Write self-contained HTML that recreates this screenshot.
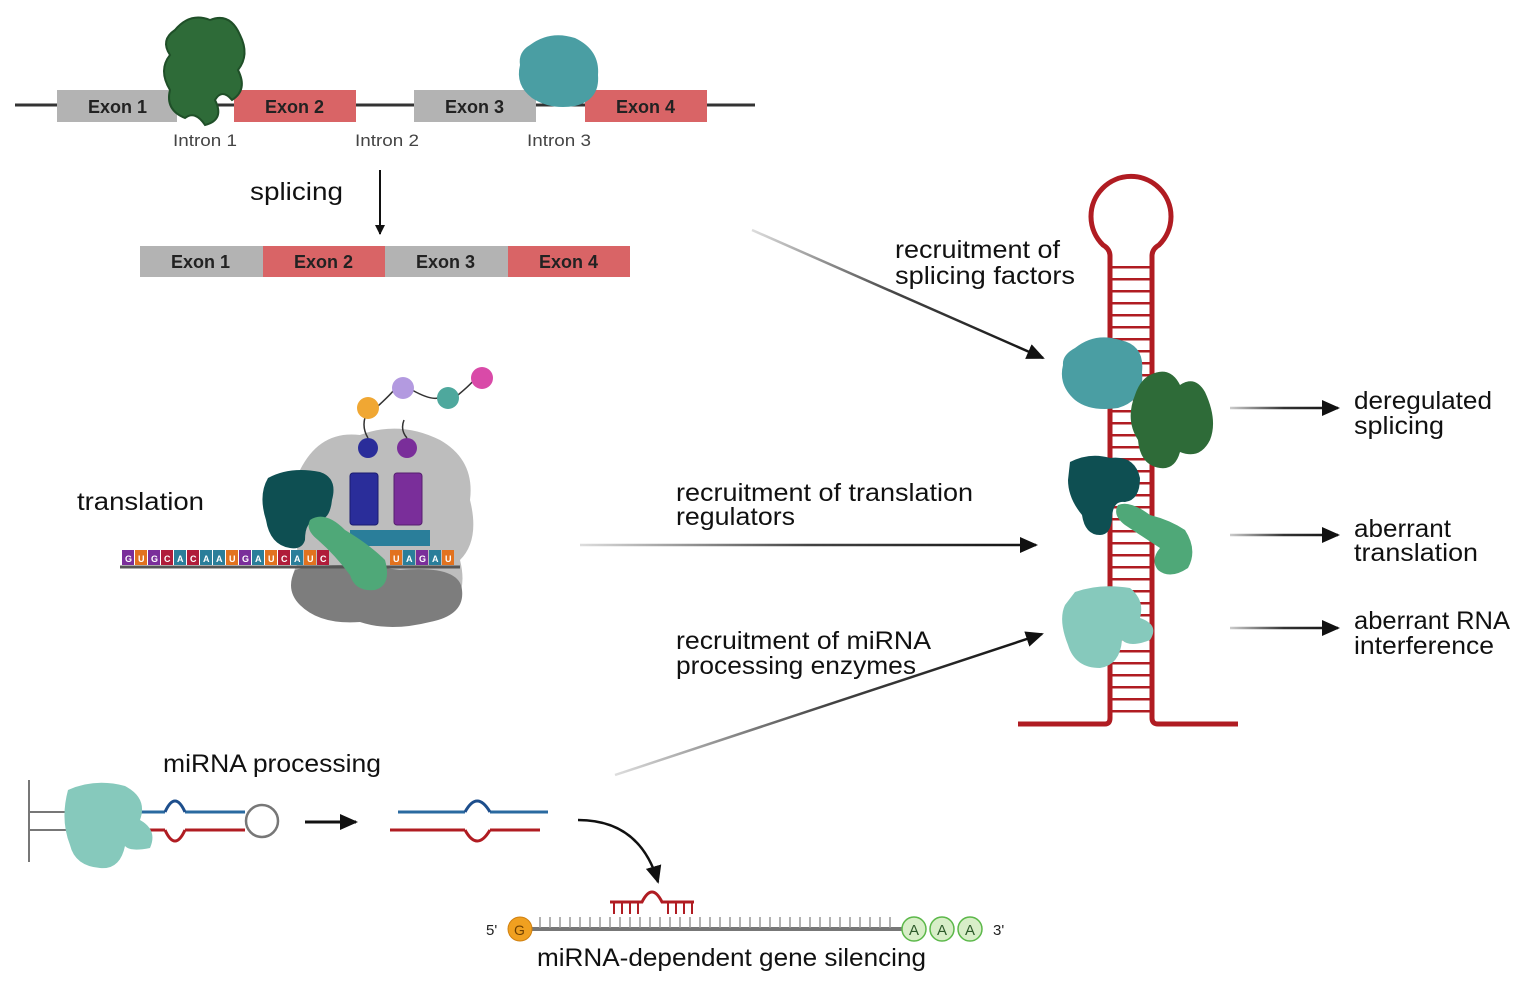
<!DOCTYPE html>
<html><head><meta charset="utf-8"><style>
html,body{margin:0;padding:0;background:#fff}
svg{display:block}
text{font-family:"Liberation Sans",sans-serif}
</style></head><body>
<svg width="1530" height="985" viewBox="0 0 1530 985" xmlns="http://www.w3.org/2000/svg">
<defs>
<marker id="ah" markerWidth="10" markerHeight="10" refX="9" refY="5" orient="auto" markerUnits="userSpaceOnUse"><path d="M0,0 L10,5 L0,10 z" fill="#111"/></marker>
<marker id="ah2" markerWidth="18" markerHeight="16" refX="16" refY="8" orient="auto" markerUnits="userSpaceOnUse"><path d="M0,0 L18,8 L0,16 z" fill="#111"/></marker>
<linearGradient id="ga" gradientUnits="userSpaceOnUse" x1="752" y1="230" x2="1043" y2="358"><stop offset="0" stop-color="#ddd"/><stop offset="0.5" stop-color="#444"/><stop offset="1" stop-color="#111"/></linearGradient>
<linearGradient id="gb" gradientUnits="userSpaceOnUse" x1="580" y1="0" x2="1036" y2="0"><stop offset="0" stop-color="#ddd"/><stop offset="0.5" stop-color="#444"/><stop offset="1" stop-color="#111"/></linearGradient>
<linearGradient id="gc" gradientUnits="userSpaceOnUse" x1="615" y1="775" x2="1042" y2="634"><stop offset="0" stop-color="#ddd"/><stop offset="0.5" stop-color="#444"/><stop offset="1" stop-color="#111"/></linearGradient>
<linearGradient id="gd" gradientUnits="userSpaceOnUse" x1="1230" y1="0" x2="1338" y2="0"><stop offset="0" stop-color="#ccc"/><stop offset="0.5" stop-color="#333"/><stop offset="1" stop-color="#111"/></linearGradient>
<pattern id="rungs" width="12" height="12" patternUnits="userSpaceOnUse" y="2"><rect x="0" y="0" width="12" height="2.5" fill="#b01c22"/></pattern>
</defs>

<line x1="15" y1="105" x2="755" y2="105" stroke="#333" stroke-width="3"/>
<rect x="57" y="90" width="120" height="32" fill="#b3b3b3"/>
<rect x="234" y="90" width="122" height="32" fill="#d96466"/>
<rect x="414" y="90" width="122" height="32" fill="#b3b3b3"/>
<rect x="585" y="90" width="122" height="32" fill="#d96466"/>
<g font-weight="bold" font-size="18" fill="#222">
<text x="88" y="113">Exon 1</text><text x="265" y="113">Exon 2</text>
<text x="445" y="113">Exon 3</text><text x="616" y="113">Exon 4</text>
</g>
<g font-size="17" fill="#444" lengthAdjust="spacingAndGlyphs">
<text x="173" y="146" textLength="64" lengthAdjust="spacingAndGlyphs">Intron 1</text><text x="355" y="146" textLength="64" lengthAdjust="spacingAndGlyphs">Intron 2</text><text x="527" y="146" textLength="64" lengthAdjust="spacingAndGlyphs">Intron 3</text>
</g>
<path d="M175,30 Q190,12 210,20 Q230,12 240,35 Q250,55 238,70 Q248,90 232,100 Q222,88 215,100 Q225,120 205,125 Q195,110 185,118 Q165,110 170,90 Q158,70 170,55 Q160,40 175,30z" fill="#2e6b38" stroke="#1f4f28" stroke-width="2"/>
<path d="M530,45 Q550,30 575,38 Q600,50 598,75 Q600,100 575,106 Q550,110 532,98 Q515,85 520,65 Q518,52 530,45z" fill="#4a9ea3"/>

<g font-size="25" fill="#111">
<text x="250" y="200" textLength="93" lengthAdjust="spacingAndGlyphs">splicing</text>
</g>
<line x1="380" y1="170" x2="380" y2="234" stroke="#111" stroke-width="2" marker-end="url(#ah)"/>
<rect x="140" y="246" width="123" height="31" fill="#b3b3b3"/>
<rect x="263" y="246" width="122" height="31" fill="#d96466"/>
<rect x="385" y="246" width="123" height="31" fill="#b3b3b3"/>
<rect x="508" y="246" width="122" height="31" fill="#d96466"/>
<g font-weight="bold" font-size="18" fill="#222">
<text x="171" y="268">Exon 1</text><text x="294" y="268">Exon 2</text>
<text x="416" y="268">Exon 3</text><text x="539" y="268">Exon 4</text>
</g>

<rect x="1112" y="262" width="38" height="458" fill="url(#rungs)"/>
<path d="M1018,724 L1105,724 Q1110,724 1110,718 L1110,256 Q1110,249 1103,245 A40,40 0 1 1 1159,245 Q1152,249 1152,256 L1152,718 Q1152,724 1158,724 L1238,724" fill="none" stroke="#b01c22" stroke-width="5"/>

<path d="M1075,348 Q1095,332 1120,340 Q1145,345 1142,372 Q1145,400 1118,408 Q1090,412 1075,400 Q1058,385 1063,365 Q1062,355 1075,348z" fill="#4a9ea3"/>
<path d="M1150,375 Q1170,365 1180,385 Q1195,375 1205,392 Q1218,420 1210,440 Q1200,460 1180,452 Q1175,470 1160,468 Q1140,465 1138,440 Q1125,420 1135,395 Q1140,380 1150,375z" fill="#2e6b38"/>
<path d="M1070,462 Q1090,452 1110,458 Q1135,455 1140,478 Q1140,500 1125,502 Q1112,500 1112,520 Q1110,535 1100,535 Q1085,535 1082,515 Q1068,498 1068,480z" fill="#0e4f52"/>
<path d="M1118,505 Q1130,500 1150,515 Q1170,520 1185,530 Q1198,550 1188,568 Q1170,580 1158,570 Q1150,560 1160,548 Q1140,535 1125,525 Q1112,515 1118,505z" fill="#4fa878"/>
<path d="M1075,592 Q1100,583 1130,588 Q1145,600 1140,618 Q1160,625 1150,640 Q1130,648 1122,640 Q1120,665 1100,668 Q1075,668 1068,645 Q1058,620 1065,605z" fill="#86c9bc"/>

<line x1="752" y1="230" x2="1043" y2="358" stroke="url(#ga)" stroke-width="2.5" marker-end="url(#ah2)"/>
<line x1="580" y1="545" x2="1036" y2="545" stroke="url(#gb)" stroke-width="2.5" marker-end="url(#ah2)"/>
<line x1="615" y1="775" x2="1042" y2="634" stroke="url(#gc)" stroke-width="2.5" marker-end="url(#ah2)"/>
<g font-size="25" fill="#111">
<text x="895" y="258" textLength="165" lengthAdjust="spacingAndGlyphs">recruitment of</text><text x="895" y="284" textLength="180" lengthAdjust="spacingAndGlyphs">splicing factors</text>
<text x="676" y="501" textLength="297" lengthAdjust="spacingAndGlyphs">recruitment of translation</text><text x="676" y="525" textLength="119" lengthAdjust="spacingAndGlyphs">regulators</text>
<text x="676" y="649" textLength="255" lengthAdjust="spacingAndGlyphs">recruitment of miRNA</text><text x="676" y="674" textLength="240" lengthAdjust="spacingAndGlyphs">processing enzymes</text>
</g>
<line x1="1230" y1="408" x2="1338" y2="408" stroke="url(#gd)" stroke-width="2.5" marker-end="url(#ah2)"/>
<line x1="1230" y1="535" x2="1338" y2="535" stroke="url(#gd)" stroke-width="2.5" marker-end="url(#ah2)"/>
<line x1="1230" y1="628" x2="1338" y2="628" stroke="url(#gd)" stroke-width="2.5" marker-end="url(#ah2)"/>
<g font-size="25" fill="#111">
<text x="1354" y="409" textLength="138" lengthAdjust="spacingAndGlyphs">deregulated</text><text x="1354" y="434" textLength="90" lengthAdjust="spacingAndGlyphs">splicing</text>
<text x="1354" y="537" textLength="97" lengthAdjust="spacingAndGlyphs">aberrant</text><text x="1354" y="561" textLength="124" lengthAdjust="spacingAndGlyphs">translation</text>
<text x="1354" y="629" textLength="156" lengthAdjust="spacingAndGlyphs">aberrant RNA</text><text x="1354" y="654" textLength="140" lengthAdjust="spacingAndGlyphs">interference</text>
</g>

<text x="77" y="510" font-size="25" fill="#111" textLength="127" lengthAdjust="spacingAndGlyphs">translation</text>
<path d="M300,470 Q320,430 360,435 Q400,420 440,440 Q475,460 470,500 Q480,540 460,560 Q470,600 440,615 Q400,630 370,620 Q330,628 300,605 Q285,580 300,560 Q290,530 300,500z" fill="#bdbdbd"/>
<path d="M295,570 Q330,560 400,570 Q460,565 462,590 Q465,615 430,622 Q390,632 360,622 Q320,625 300,605 Q285,590 295,570z" fill="#7d7d7d"/>
<rect x="350" y="473" width="28" height="52" rx="3" fill="#2a2d9a" stroke="#1a1c70"/>
<rect x="394" y="473" width="28" height="52" rx="3" fill="#7a2e9a" stroke="#561f6e"/>
<circle cx="368" cy="448" r="10" fill="#2a2d9a"/><circle cx="407" cy="448" r="10" fill="#7a2e9a"/>
<path d="M368,438 Q360,425 368,410 M407,438 Q400,430 404,420 M378,406 Q390,395 394,390 M412,390 Q430,400 438,398 M458,395 Q470,385 474,380" stroke="#333" stroke-width="1.5" fill="none"/>
<circle cx="368" cy="408" r="11" fill="#f0a733"/><circle cx="403" cy="388" r="11" fill="#b39ae0"/>
<circle cx="448" cy="398" r="11" fill="#4ea89d"/><circle cx="482" cy="378" r="11" fill="#d94aa8"/>
<line x1="120" y1="567" x2="460" y2="567" stroke="#555" stroke-width="3"/>
<g font-size="9" font-weight="bold" fill="#fff">
<rect x="122" y="550" width="12" height="15" fill="#7a2e9a"/><rect x="135" y="550" width="12" height="15" fill="#e2721f"/>
<rect x="148" y="550" width="12" height="15" fill="#7a2e9a"/><rect x="161" y="550" width="12" height="15" fill="#b01c3a"/>
<rect x="174" y="550" width="12" height="15" fill="#2a7e9a"/><rect x="187" y="550" width="12" height="15" fill="#b01c3a"/>
<rect x="200" y="550" width="12" height="15" fill="#2a7e9a"/><rect x="213" y="550" width="12" height="15" fill="#2a7e9a"/>
<rect x="226" y="550" width="12" height="15" fill="#e2721f"/><rect x="239" y="550" width="12" height="15" fill="#7a2e9a"/>
<rect x="252" y="550" width="12" height="15" fill="#2a7e9a"/><rect x="265" y="550" width="12" height="15" fill="#e2721f"/>
<rect x="278" y="550" width="12" height="15" fill="#b01c3a"/><rect x="291" y="550" width="12" height="15" fill="#2a7e9a"/>
<rect x="304" y="550" width="12" height="15" fill="#e2721f"/><rect x="317" y="550" width="12" height="15" fill="#b01c3a"/>
<rect x="390" y="550" width="12" height="15" fill="#e2721f"/><rect x="403" y="550" width="12" height="15" fill="#2a7e9a"/>
<rect x="416" y="550" width="12" height="15" fill="#7a2e9a"/><rect x="429" y="550" width="12" height="15" fill="#2a7e9a"/>
<rect x="442" y="550" width="12" height="15" fill="#e2721f"/>
<text x="125" y="562">G</text><text x="138" y="562">U</text><text x="151" y="562">G</text><text x="164" y="562">C</text><text x="177" y="562">A</text><text x="190" y="562">C</text><text x="203" y="562">A</text><text x="216" y="562">A</text><text x="229" y="562">U</text><text x="242" y="562">G</text><text x="255" y="562">A</text><text x="268" y="562">U</text><text x="281" y="562">C</text><text x="294" y="562">A</text><text x="307" y="562">U</text><text x="320" y="562">C</text>
<text x="393" y="562">U</text><text x="406" y="562">A</text><text x="419" y="562">G</text><text x="432" y="562">A</text><text x="445" y="562">U</text>
<rect x="350" y="530" width="80" height="16" fill="#2a7e9a"/>
</g>
<path d="M268,478 Q290,466 320,472 Q338,478 332,500 Q330,520 318,520 Q305,520 305,540 Q302,550 290,548 Q270,545 266,520 Q258,495 268,478z" fill="#0e4f52"/>
<path d="M310,520 Q325,510 345,530 Q370,545 385,560 Q392,585 375,590 Q355,592 350,575 Q335,555 318,540 Q305,530 310,520z" fill="#4fa878"/>

<text x="163" y="772" font-size="25" fill="#111" textLength="218" lengthAdjust="spacingAndGlyphs">miRNA processing</text>
<line x1="29" y1="780" x2="29" y2="862" stroke="#777" stroke-width="2"/>
<path d="M29,812 H125 M29,830 H125" stroke="#777" stroke-width="2"/>
<path d="M125,812 H165 M185,812 H245" stroke="#2a6aa0" stroke-width="3"/>
<path d="M165,812 Q175,790 185,812" stroke="#1d4e8c" stroke-width="3" fill="none"/>
<path d="M165,830 Q175,852 185,830" stroke="#b01c22" stroke-width="3" fill="none"/>
<path d="M125,830 H165 M185,830 H245" stroke="#b01c22" stroke-width="3"/>
<circle cx="262" cy="821" r="16" fill="none" stroke="#777" stroke-width="2.5"/>
<path d="M68,790 Q95,778 125,786 Q148,798 140,820 Q158,830 150,848 Q130,852 125,846 Q120,870 100,868 Q75,866 70,845 Q60,820 68,790z" fill="#86c9bc"/>
<line x1="305" y1="822" x2="356" y2="822" stroke="#111" stroke-width="3" marker-end="url(#ah2)"/>
<path d="M398,812 H465 M490,812 H548" stroke="#2a6aa0" stroke-width="3"/>
<path d="M390,830 H465 M490,830 H540" stroke="#b01c22" stroke-width="3"/>
<path d="M465,812 Q477,790 490,812" stroke="#1d4e8c" stroke-width="3" fill="none"/>
<path d="M465,830 Q477,852 490,830" stroke="#b01c22" stroke-width="3" fill="none"/>
<path d="M578,820 Q640,820 658,882" stroke="#111" stroke-width="2.5" fill="none" marker-end="url(#ah2)"/>
<line x1="530" y1="929" x2="905" y2="929" stroke="#777" stroke-width="4"/>
<path d="M540,917 V928 M550,917 V928 M560,917 V928 M570,917 V928 M580,917 V928 M590,917 V928 M600,917 V928 M610,917 V928 M620,917 V928 M630,917 V928 M640,917 V928 M650,917 V928 M660,917 V928 M670,917 V928 M680,917 V928 M690,917 V928 M700,917 V928 M710,917 V928 M720,917 V928 M730,917 V928 M740,917 V928 M750,917 V928 M760,917 V928 M770,917 V928 M780,917 V928 M790,917 V928 M800,917 V928 M810,917 V928 M820,917 V928 M830,917 V928 M840,917 V928 M850,917 V928 M860,917 V928 M870,917 V928 M880,917 V928 M890,917 V928" stroke="#999" stroke-width="1.5"/>
<path d="M610,902 H642 Q652,882 662,902 H694" stroke="#b01c22" stroke-width="3" fill="none"/>
<path d="M614,902 V914 M622,902 V914 M630,902 V914 M638,902 V914 M668,902 V914 M676,902 V914 M684,902 V914 M692,902 V914" stroke="#b01c22" stroke-width="2"/>
<circle cx="520" cy="929" r="12" fill="#f0a020" stroke="#d08010"/>
<text x="514" y="935" font-size="14" fill="#704000">G</text>
<g fill="#d8eec8" stroke="#5cb84a" stroke-width="1.5">
<circle cx="914" cy="929" r="12"/><circle cx="942" cy="929" r="12"/><circle cx="970" cy="929" r="12"/></g>
<g font-size="15" fill="#2d5a2a"><text x="909" y="935">A</text><text x="937" y="935">A</text><text x="965" y="935">A</text></g>
<text x="486" y="935" font-size="15" fill="#222">5'</text><text x="993" y="935" font-size="15" fill="#222">3'</text>
<text x="537" y="966" font-size="25" fill="#111" textLength="389" lengthAdjust="spacingAndGlyphs">miRNA-dependent gene silencing</text>
</svg>
</body></html>
